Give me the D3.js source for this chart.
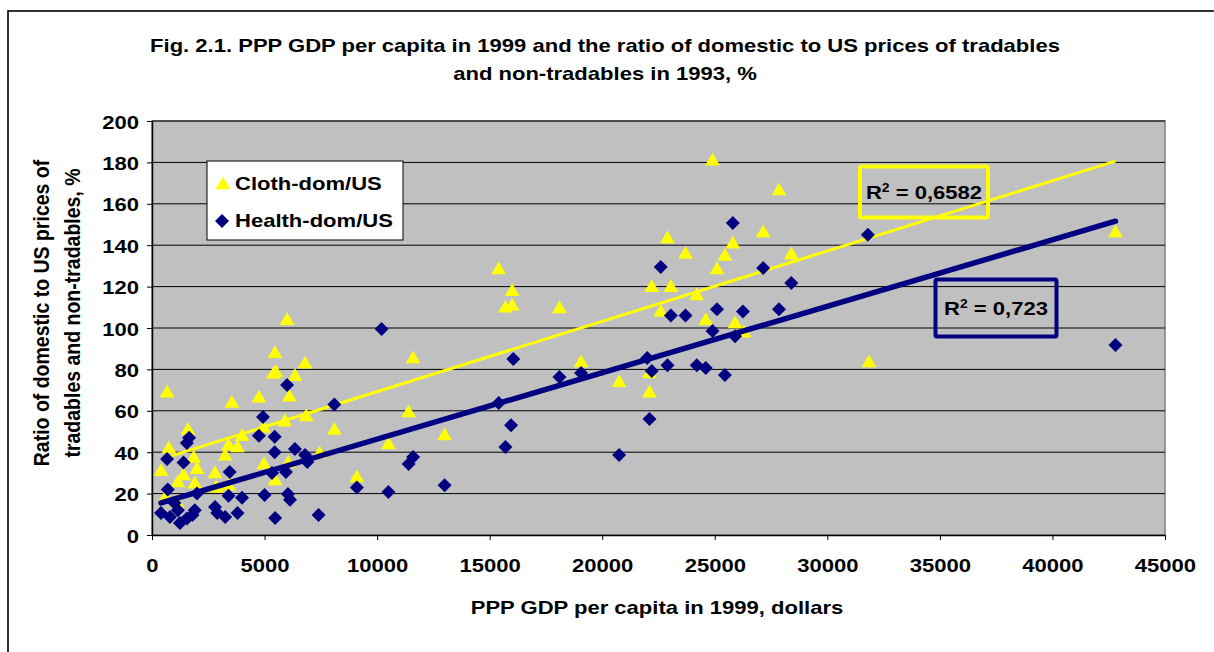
<!DOCTYPE html>
<html><head><meta charset="utf-8">
<script src="https://cdn.jsdelivr.net/npm/d3@7"></script>
<style>body{margin:0;background:#fff;}svg{display:block;font-family:"Liberation Sans",Arial,sans-serif;font-weight:bold;}</style>
</head><body>
<svg id="c" width="1214" height="652"></svg>
<script>
// ---- data ----
const clothGDP = [400,600,670,750,1150,1100,1400,1600,1850,2000,1900,2800,2850,3250,3400,3800,4000,3550,4750,4950,4970,5400,5500,5460,5470,5900,6050,6000,6100,6350,6800,6850,7450,8100,9100,10500,11400,11600,13000,15400,15700,16000,16000,18100,19060,20750,22100,22100,22200,22600,22900,23050,23700,24200,24600,24900,25100,25450,25800,25900,26300,27150,27850,28400,31850,42800,3400];
const clothRatio = [31,18.4,69,42,25.6,16,29,51,37.5,32,25,30,23,38.5,43.5,42.5,48,64,66.5,52,34.3,78,79,88,26.6,55,35,104,67,77,83,57.5,39.6,51,28,44,59.4,85.5,48.3,128.5,110,111,118,109.7,83.6,74,69,78.3,120,108,143.5,120,136,116,104,181,128.5,135,141,102.4,98,146.4,166.7,135.7,83.6,146.4,24];
const healthGDP = [400,670,700,800,1000,1150,1240,1400,1550,1550,1650,1800,1900,2000,2800,2900,3250,3450,3400,3800,4000,4750,4930,5000,5330,5450,5450,5470,5950,6000,6040,6130,6350,6800,6900,7400,8100,9100,10200,10500,11400,11600,13000,15400,15700,15950,16050,18100,19060,20750,22000,22100,22200,22600,22900,23050,23700,24200,24600,24900,25100,25450,25800,25900,26250,27150,27850,28400,31800,42800];
const healthRatio = [10.6,36.7,22,8.7,15.5,12,5.8,35,8,44.5,47,9.7,12,20,13.5,10.6,8.7,30.4,19,10.6,18,48,57,19.3,30,47.5,40,8.2,30.4,72.5,19.8,17,41.5,38.6,35.3,9.7,63,23,99.5,20.8,34.3,37.7,24,63.8,42.5,53,85,76.3,78.3,38.6,85.5,56,79.2,129.5,82,106,106,82,80.7,98.6,109,77.3,150.7,96,108,129,109,121.7,145,91.8];
// linear trend lines (slope per dollar, intercept) and R² labels as shown
const clothTrend = {slope: 0.003396, intercept: 35.3, label: "0,6582"};
const healthTrend = {slope: 0.00321, intercept: 14.2, label: "0,723"};
const xTicks = [0,5000,10000,15000,20000,25000,30000,35000,40000,45000];
const yTicks = [0,20,40,60,80,100,120,140,160,180,200];
const seriesNames = ["Cloth-dom/US","Health-dom/US"];
const titleLines = ["Fig. 2.1. PPP GDP per capita in 1999 and the ratio of domestic to US prices of tradables","and non-tradables in 1993, %"];
const yTitleLines = ["Ratio of domestic to US prices of","tradables and non-tradables, %"];
const xTitle = "PPP GDP per capita in 1999, dollars";

const YELLOW = "#FFFF00", NAVY = "#000080";
const FS = 19, K = 1.16; // font size and horizontal stretch of the original rendering
const svg = d3.select("#c");
// outer frame
svg.append("rect").attr("x",8).attr("y",11).attr("width",1400).attr("height",800)
  .attr("fill","none").attr("stroke","#000").attr("stroke-width",1.6);

const x = d3.scaleLinear().domain([0,45000]).range([152,1165]);
const y = d3.scaleLinear().domain([0,200]).range([535,121]);

// plot area
svg.append("rect").attr("x",x(0)).attr("y",y(200)).attr("width",x(45000)-x(0)).attr("height",y(0)-y(200))
  .attr("fill","#C0C0C0").attr("stroke","#808080").attr("stroke-width",1.5);
// gridlines
svg.append("g").selectAll("line").data(yTicks.filter(d=>d>0)).join("line")
  .attr("x1",x(0)).attr("x2",x(45000)).attr("y1",d=>y(d)).attr("y2",d=>y(d))
  .attr("stroke","#000").attr("stroke-width",1);

// axes
const xAxis = svg.append("g").attr("transform",`translate(0,${y(0)})`)
  .call(d3.axisBottom(x).tickValues(xTicks).tickFormat(d3.format("d")).tickSize(5).tickSizeOuter(0));
const yAxis = svg.append("g").attr("transform",`translate(${x(0)},0)`)
  .call(d3.axisLeft(y).tickValues(yTicks).tickFormat(d3.format("d")).tickSize(5).tickSizeOuter(0));
[xAxis,yAxis].forEach(a=>{
  a.select(".domain").attr("stroke","#000").attr("stroke-width",1.5);
  a.selectAll(".tick line").attr("stroke","#000");
  a.selectAll("text").attr("font-size",FS).attr("font-weight","bold").attr("fill","#000")
   .attr("font-family",'"Liberation Sans",Arial,sans-serif')
   .attr("x",0).attr("y",0).attr("dy",0).attr("dx",0);
});
xAxis.selectAll("text").attr("transform",`translate(0,37) scale(${K},1)`);
yAxis.selectAll("text").attr("transform",`translate(-13,7) scale(${K},1)`);

function stext(parent, tx, ty, str, anchor){
  return parent.append("text").attr("transform",`translate(${tx},${ty}) scale(${K},1)`)
    .attr("text-anchor",anchor||"start").attr("font-size",FS).attr("fill","#000").text(str);
}

// trend lines
function trend(t, xs){
  const x0 = d3.min(xs), x1 = d3.max(xs);
  return [[x0, t.intercept + t.slope*x0],[x1, t.intercept + t.slope*x1]];
}
const line = d3.line().x(d=>x(d[0])).y(d=>y(d[1]));

// points
const cloth = clothGDP.map((g,i)=>({g, r:clothRatio[i]}));
const health = healthGDP.map((g,i)=>({g, r:healthRatio[i]}));
const tri = d3.symbol().type(d3.symbolTriangle).size(95);
const dia = "M0,-7L7,0L0,7L-7,0Z";

svg.append("g").selectAll("path").data(cloth).join("path")
  .attr("d",tri).attr("transform",d=>`translate(${x(d.g)},${y(d.r)+1})`).attr("fill",YELLOW);
svg.append("path").attr("d",line(trend(clothTrend,clothGDP))).attr("stroke",YELLOW).attr("stroke-width",3).attr("fill","none");
svg.append("g").selectAll("path").data(health).join("path")
  .attr("d",dia).attr("transform",d=>`translate(${x(d.g)},${y(d.r)})`).attr("fill",NAVY);
svg.append("path").attr("d",line(trend(healthTrend,healthGDP))).attr("stroke",NAVY).attr("stroke-width",5.5).attr("stroke-linecap","round").attr("fill","none");

// R² boxes
function r2box(cx, cy, w, h, color, label){
  const g = svg.append("g");
  g.append("rect").attr("x",cx-w/2).attr("y",cy-h/2).attr("width",w).attr("height",h)
    .attr("fill","none").attr("stroke",color).attr("stroke-width",4).attr("rx",1.5);
  const t = stext(g, cx, cy+7, "", "middle");
  t.append("tspan").text("R");
  t.append("tspan").text("2").attr("font-size",12).attr("dy",-7);
  t.append("tspan").text(" = "+label).attr("dy",7);
}
r2box(924,192,128,51,YELLOW,clothTrend.label);
r2box(996,308,121,57,NAVY,healthTrend.label);

// legend
const lg = svg.append("g");
lg.append("rect").attr("x",207).attr("y",161).attr("width",196).attr("height",79).attr("fill","#fff").attr("stroke","#000").attr("stroke-width",1);
lg.append("path").attr("d",tri).attr("transform","translate(223,185)").attr("fill",YELLOW);
lg.append("path").attr("d",dia).attr("transform","translate(222,221)").attr("fill",NAVY);
seriesNames.forEach((s,i)=>stext(lg, 235, 190+i*37, s));

// titles
titleLines.forEach((s,i)=>stext(svg, 605, 52+i*28, s, "middle"));
yTitleLines.forEach((s,i)=>svg.append("text")
  .attr("transform",`translate(${49+i*31},313) scale(${K},1) rotate(-90)`)
  .attr("text-anchor","middle").attr("font-size",19.5).attr("fill","#000").text(s));
stext(svg, 657, 614, xTitle, "middle");
</script>
</body></html>
